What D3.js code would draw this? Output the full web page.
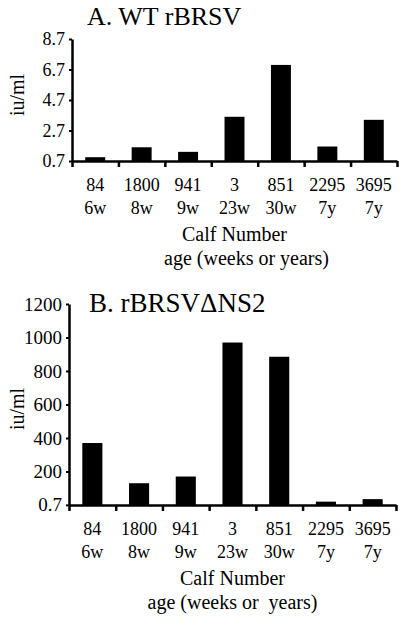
<!DOCTYPE html>
<html>
<head>
<meta charset="utf-8">
<script src="https://cdn.jsdelivr.net/npm/d3@7"></script>
<style>
    body { margin: 0; background: #fff; }
    svg text { font-family: "Liberation Serif", "Times New Roman", serif; fill: #000; }
</style>
</head>
<body>
<div id="chart"></div>
<script>
// calf numbers and ages (shared by both panels)
const calfNumbers = ["84", "1800", "941", "3", "851", "2295", "3695"];
const calfAges = ["6w", "8w", "9w", "23w", "30w", "7y", "7y"];

// panel A - WT rBRSV, iu/ml
const wtValues = [0.95, 1.6, 1.3, 3.6, 7.0, 1.65, 3.4];
const wtTicks = [0.7, 2.7, 4.7, 6.7, 8.7];

// panel B - rBRSV delta NS2, iu/ml
const ns2Values = [370, 130, 170, 970, 885, 20, 35];
const ns2Ticks = [0.7, 200, 400, 600, 800, 1000, 1200];

const svg = d3.select('#chart')
    .append('svg')
    .attr('width', 404)
    .attr('height', 620);

drawPanel({
    title: 'A. WT rBRSV',
    titleX: 87, titleY: 25, titleSize: 26,
    values: wtValues,
    ticks: wtTicks,
    domain: [0.7, 8.7],
    base: 0.7,
    left: 72, right: 397, top: 39, bottom: 161,
    tickFont: 18,
    yLabelY: 95,
    xTitles: ['Calf Number', 'age (weeks or years)'],
    xTitleShift: [0, 12]
});

drawPanel({
    title: 'B. rBRSV\u0394NS2',
    titleX: 89, titleY: 312, titleSize: 27,
    values: ns2Values,
    ticks: ns2Ticks,
    domain: [0, 1200],
    base: 0,
    left: 69, right: 396, top: 304, bottom: 505,
    tickFont: 19,
    yLabelY: 409,
    xTitles: ['Calf Number', 'age (weeks or  years)'],
    xTitleShift: [0, 0]
});

// draw one bar panel
function drawPanel(p) {
    const g = svg.append('g');

    // scales
    const y = d3.scaleLinear()
        .domain(p.domain)
        .range([p.bottom, p.top]);

    const x = d3.scaleBand()
        .domain(calfNumbers)
        .range([p.left, p.right])
        .padding(0);

    // x tick marks sit on the band edges
    const xEdge = d3.scaleLinear()
        .domain([0, calfNumbers.length])
        .range([p.left, p.right]);

    // title
    g.append('text')
        .attr('x', p.titleX)
        .attr('y', p.titleY)
        .style('font-size', p.titleSize + 'px')
        .text(p.title);

    // bars
    const barW = x.bandwidth() * 0.43;
    g.selectAll('.bar')
        .data(p.values)
        .enter()
        .append('rect')
        .attr('class', 'bar')
        .attr('x', (d, i) => x(calfNumbers[i]) + (x.bandwidth() - barW) / 2)
        .attr('width', barW)
        .attr('y', d => y(d))
        .attr('height', d => y(p.base) - y(d))
        .attr('fill', '#000');

    // y axis
    const yAxis = g.append('g')
        .attr('transform', `translate(${p.left},0)`)
        .call(d3.axisLeft(y)
            .tickValues(p.ticks)
            .tickFormat(d => String(d))
            .tickSize(3)
            .tickSizeOuter(0)
            .tickPadding(4));

    yAxis.select('.domain').attr('stroke-width', 2.5);
    yAxis.selectAll('.tick line').attr('stroke-width', 2);
    yAxis.selectAll('.tick text')
        .style('font-size', p.tickFont + 'px')
        .attr('fill', '#000');

    // x axis
    const xAxis = g.append('g')
        .attr('transform', `translate(0,${y(p.base)})`)
        .call(d3.axisBottom(xEdge)
            .tickValues(d3.range(calfNumbers.length + 1))
            .tickFormat('')
            .tickSize(6)
            .tickSizeOuter(0));

    xAxis.select('.domain').attr('stroke-width', 2.5);
    xAxis.selectAll('.tick line').attr('stroke-width', 2.5);

    // calf numbers and ages under each bar
    const axisY = y(p.base);
    g.selectAll('.calf-num')
        .data(calfNumbers)
        .enter()
        .append('text')
        .attr('class', 'calf-num')
        .attr('x', d => x(d) + x.bandwidth() / 2)
        .attr('y', axisY + 30)
        .attr('text-anchor', 'middle')
        .style('font-size', '18px')
        .text(d => d);

    g.selectAll('.calf-age')
        .data(calfAges)
        .enter()
        .append('text')
        .attr('class', 'calf-age')
        .attr('x', (d, i) => x(calfNumbers[i]) + x.bandwidth() / 2)
        .attr('y', axisY + 53)
        .attr('text-anchor', 'middle')
        .style('font-size', '18px')
        .text(d => d);

    // x axis titles
    const midX = (p.left + p.right) / 2;
    p.xTitles.forEach((t, i) => {
        g.append('text')
            .attr('x', midX + p.xTitleShift[i])
            .attr('y', axisY + 80 + i * 24)
            .attr('text-anchor', 'middle')
            .style('font-size', '20px')
            .style('white-space', 'pre')
            .text(t);
    });

    // y axis title
    g.append('text')
        .attr('transform', `translate(24,${p.yLabelY}) rotate(-90)`)
        .attr('text-anchor', 'middle')
        .style('font-size', '20px')
        .text('iu/ml');
}
</script>
</body>
</html>
